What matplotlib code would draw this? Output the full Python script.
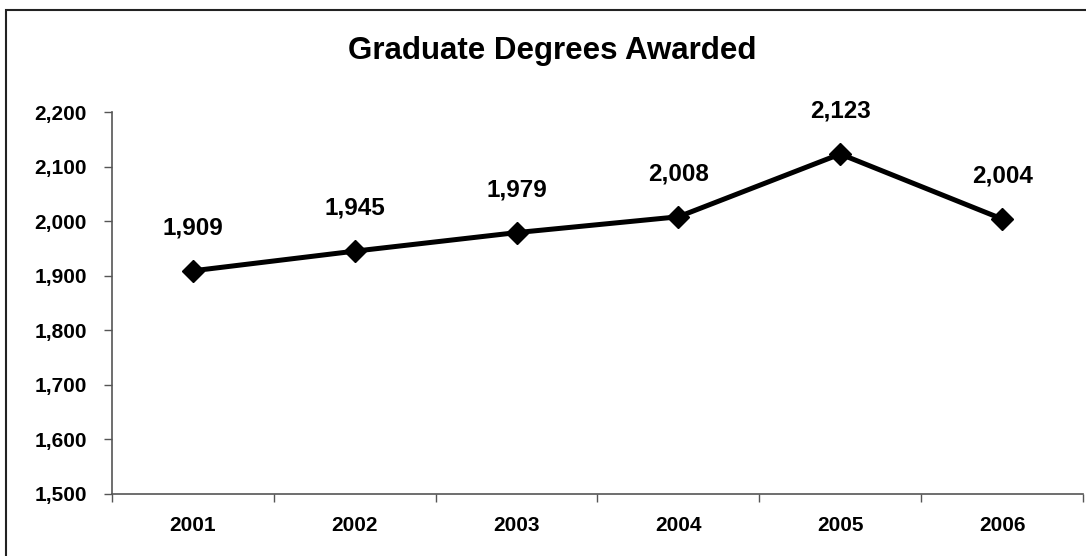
import matplotlib.pyplot as plt
from matplotlib.patches import Rectangle
from matplotlib.ticker import FuncFormatter

years = ['2001', '2002', '2003', '2004', '2005', '2006']
degrees = [1909, 1945, 1979, 2008, 2123, 2004]

plt.rcParams['font.family'] = ['Liberation Sans', 'DejaVu Sans']
plt.rcParams['font.weight'] = 'bold'

fig = plt.figure(figsize=(10.86, 5.56), dpi=100)
ax = fig.add_axes([112 / 1086, 1 - 494 / 556, (1083 - 112) / 1086, (494 - 112) / 556])

x = list(range(len(years)))
ax.plot(x, degrees, color='black', linewidth=3.6, marker='D',
        markersize=11.5, markerfacecolor='black', markeredgecolor='black',
        solid_joinstyle='miter', zorder=3)

for xi, val in zip(x, degrees):
    ax.annotate(f'{val:,}', (xi, val), xytext=(0, 31), textcoords='offset points',
                ha='center', va='center', fontsize=17.5, fontweight='bold')

ax.set_xlim(-0.5, len(years) - 0.5)
ax.set_ylim(1500, 2200)
ax.set_yticks(range(1500, 2201, 100))
ax.yaxis.set_major_formatter(FuncFormatter(lambda v, p: f'{int(v):,}'))

# category ticks sit between the years, labels centred under each year
ax.set_xticks([i - 0.5 for i in range(len(years) + 1)])
ax.set_xticklabels([])
ax.set_xticks(x, minor=True)
ax.set_xticklabels(years, minor=True)
ax.tick_params(axis='x', which='minor', length=0, pad=16, labelsize=15)
ax.tick_params(axis='x', which='major', length=6, width=1, color='#555555', direction='out')
ax.tick_params(axis='y', length=6, width=1, color='#555555', direction='out', pad=12, labelsize=15)

for side in ['top', 'right']:
    ax.spines[side].set_visible(False)
for side in ['left', 'bottom']:
    ax.spines[side].set_color('#555555')
    ax.spines[side].set_linewidth(1.2)

fig.text(552 / 1086, 1 - 51 / 556, 'Graduate Degrees Awarded',
         ha='center', va='center', fontsize=22.5, fontweight='bold')

# chart area border
fig.patches.append(Rectangle((6 / 1086, -0.05), 1.1, 1 - 10 / 556 + 0.05,
                             transform=fig.transFigure, fill=False,
                             edgecolor='#222222', linewidth=1.5))

fig.savefig('out.png', dpi=100)
